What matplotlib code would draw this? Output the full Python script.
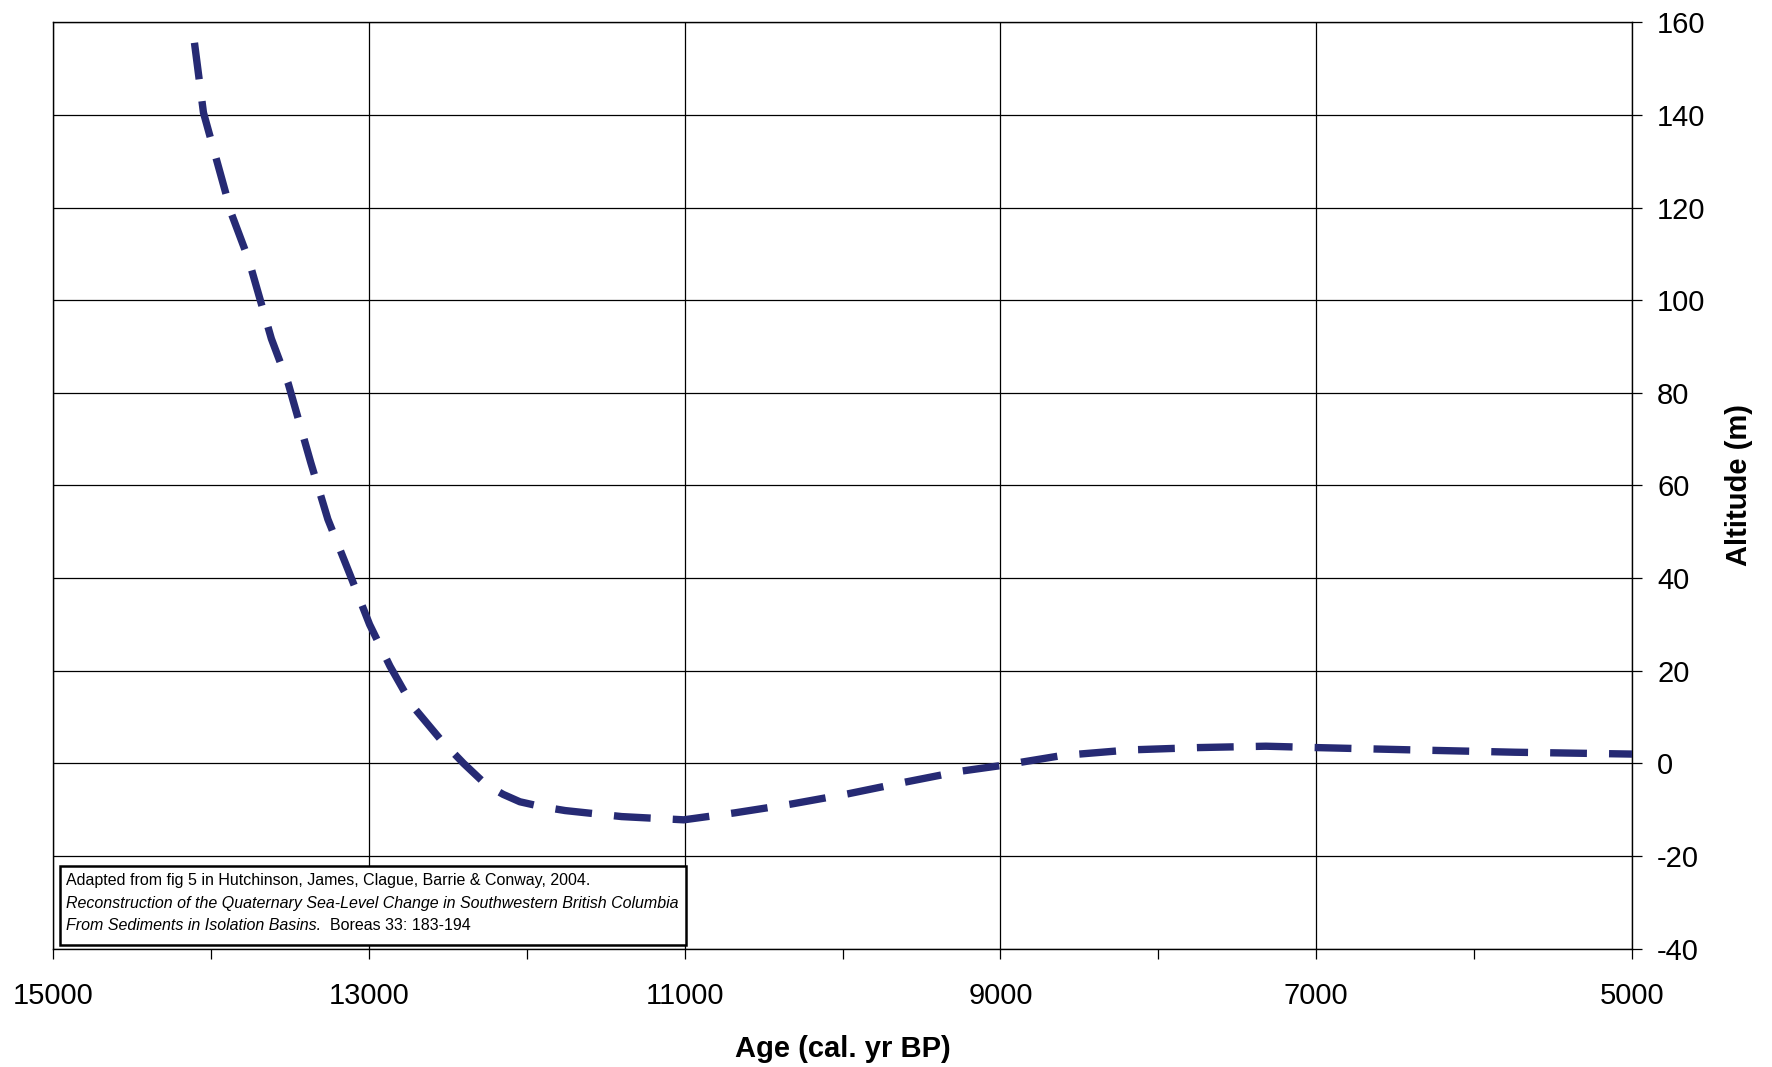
#!/usr/bin/env python3
"""
Relative sea-level curve, SW British Columbia
(after Hutchinson et al. 2004, fig 5)
"""

import matplotlib
matplotlib.use('Agg')
import matplotlib.pyplot as plt
from matplotlib.patches import Rectangle
from matplotlib.ticker import MultipleLocator

# Data (age in cal. yr BP, altitude in m)
age = [14105, 14048, 13869, 13762, 13618, 13511, 13368, 13260, 13117, 12996,
       12867, 12724, 12545, 12401, 12258, 12150, 12044, 11900, 11757, 11399,
       11006, 10684, 10326, 9968, 9610, 9252, 9001, 8608, 8178, 7749,
       7319, 6997, 6389, 5744, 5000]
altitude = [155.6, 140.5, 118.5, 108.8, 91.7, 82.0, 64.9, 52.7, 40.5, 30.0,
            21.0, 12.4, 5.1, 0.0, -4.6, -6.7, -8.3, -9.4, -10.2, -11.5,
            -12.2, -10.7, -8.8, -6.6, -4.1, -1.7, -0.5, 1.7, 2.9, 3.4,
            3.7, 3.4, 2.9, 2.4, 2.0]

x_ticks = [15000, 13000, 11000, 9000, 7000, 5000]
y_ticks = [-40, -20, 0, 20, 40, 60, 80, 100, 120, 140, 160]

source_lines = [
    'Adapted from fig 5 in Hutchinson, James, Clague, Barrie & Conway, 2004.',
    'Reconstruction of the Quaternary Sea-Level Change in Southwestern British Columbia',
    'From Sediments in Isolation Basins.',
]
source_tail = '  Boreas 33: 183-194'

LINE_COLOR = '#262a74'
FONT = ['Liberation Sans', 'DejaVu Sans']

plt.rcParams['font.family'] = FONT
plt.rcParams['axes.unicode_minus'] = False

fig = plt.figure(figsize=(17.72, 10.67), dpi=100)
ax = fig.add_axes([0.030, 0.111, 0.891, 0.868])

ax.plot(age, altitude, color=LINE_COLOR, linewidth=5.3,
        linestyle=(0, (5, 3)), dash_capstyle='butt', zorder=3)

ax.set_xlim(15000, 5000)
ax.set_ylim(-40, 160)
ax.set_xticks(x_ticks)
ax.xaxis.set_minor_locator(MultipleLocator(1000))
ax.set_yticks(y_ticks)

ax.yaxis.tick_right()
ax.yaxis.set_label_position('right')
ax.tick_params(axis='both', which='both', direction='out', length=7,
               width=0.9, labelsize=21)
ax.tick_params(axis='x', which='major', pad=17)
ax.tick_params(axis='y', which='major', pad=11)

ax.grid(True, which='major', color='black', linewidth=0.9)
ax.set_axisbelow(True)
for sp in ax.spines.values():
    sp.set_linewidth(1.0)

ax.set_xlabel('Age (cal. yr BP)', fontsize=21, fontweight='bold', labelpad=18)
ax.set_ylabel('Altitude (m)', fontsize=21, fontweight='bold', labelpad=14)

# Source box
ax.add_patch(Rectangle((0.0044, 0.0043), 0.3966, 0.0853, transform=ax.transAxes,
                       facecolor='white', edgecolor='black', linewidth=1.8,
                       zorder=4))
ax.text(0.0079, 0.0734, source_lines[0], transform=ax.transAxes,
        fontsize=11.5, va='center', ha='left', zorder=5)
ax.text(0.0079, 0.0486, source_lines[1], transform=ax.transAxes,
        fontsize=11.5, va='center', ha='left', style='italic', zorder=5)
t3 = ax.text(0.0079, 0.0254, source_lines[2], transform=ax.transAxes,
             fontsize=11.5, va='center', ha='left', style='italic', zorder=5)
ax.annotate(source_tail, xy=(1, 0), xycoords=t3, fontsize=11.5,
            va='bottom', ha='left', zorder=5)

fig.savefig('out.png', dpi=100)
